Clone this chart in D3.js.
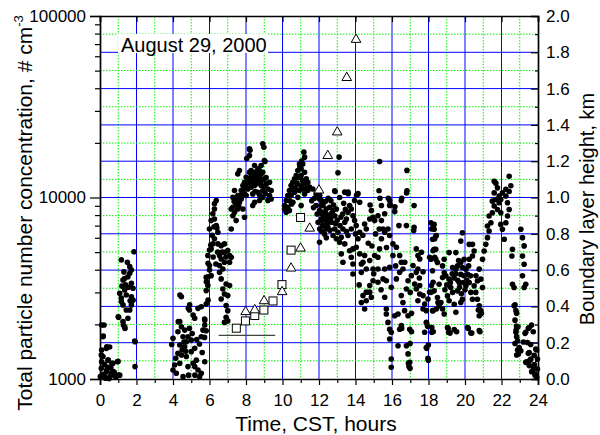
<!DOCTYPE html>
<html>
<head>
<meta charset="utf-8">
<script src="https://cdnjs.cloudflare.com/ajax/libs/d3/7.8.5/d3.min.js"></script>
<style>
body { margin: 0; background: #fff; }
svg { display: block; font-family: "Liberation Sans", Arial, sans-serif; }
</style>
</head>
<body>
<svg width="600" height="435"></svg>
<script>

// Particle concentration, [hour CST, # cm-3]
var nightA = [[0.07,1355],[0.35,1475],[0.53,1500],[0.16,1330],[0.44,1270],[0.71,1220],[0.07,1145],[0.35,1095],[0.62,1075],[0.89,1030],[1.08,1050],[0.26,1030],[0.99,1250],[0.16,1710],[0.22,1985],[0.09,1985],[0.18,1725],[0.37,1505],[0.09,1445],[0.45,1270],[0.64,1220],[0.09,1245],[0.37,1120],[0.73,1100],[0.55,1030],[0.82,1040],[1.0,1050],[0.02,1030],[0.95,1245],[0.3,1010],[0.5,1005],[0.15,1060],[0.6,1150],[0.25,1200],[0.42,1160],[0.78,1090]];

var nightB = [[1.92,1605],[1.92,1170],[1.28,1985],[1.37,1900],[1.0,2200],[1.17,4530],[1.5,4400],[1.86,5020],[1.26,3510],[1.53,3660],[1.72,3980],[1.63,3820],[1.35,3090],[1.08,2965],[1.17,2790],[1.44,2900],[1.72,2840],[1.81,2720],[1.26,2560],[1.63,2400],[1.53,2160],[1.35,1940],[1.26,2070],[1.02,2190],[1.9,1620],[1.72,3370],[1.81,3160],[1.17,2670],[1.35,3580],[1.63,4160],[1.31,3890],[1.72,2560],[1.44,2400],[1.55,3200],[1.4,3300],[1.65,2700],[1.2,3250]];

var predawn = [[4.46,2840],[4.91,2560],[5.1,2250],[5.19,2160],[5.37,2450],[5.55,2500],[5.74,2110],[5.92,2720],[5.74,1985],[5.64,1860],[5.55,1710],[4.37,2070],[4.46,1940],[4.27,1820],[4.64,1860],[4.55,1710],[4.82,1710],[4.73,1605],[5.0,1640],[4.37,1540],[4.64,1505],[4.0,1675],[4.27,1385],[4.46,1355],[4.73,1330],[5.0,1415],[5.19,1475],[5.28,1270],[5.1,1220],[4.82,1170],[4.37,1220],[4.09,1195],[4.0,1120],[4.18,1075],[4.55,1030],[5.37,1120],[5.55,1075],[5.46,1030],[5.19,1170],[5.74,1245],[3.93,1550],[4.29,2070],[4.38,2900],[4.84,2450],[4.9,2400],[6.0,5130],[6.07,5470],[5.92,4340],[5.92,3660],[5.83,3435],[6.0,3980],[4.6,1600],[4.9,1900],[5.05,1780],[4.5,1450],[4.7,1420],[5.3,1650],[5.45,1560],[4.15,1300],[5.6,1400],[4.85,1050],[5.2,1050]];

var morning = [[5.73,2140],[5.82,2590],[5.82,3070],[5.91,3270],[6.09,3710],[6.0,4220],[5.82,3630],[5.91,4790],[6.09,5210],[6.18,5550],[6.46,5550],[6.64,5430],[6.82,5550],[6.55,4790],[6.82,4400],[6.27,5920],[6.0,6710],[6.09,7460],[6.27,7620],[6.37,7000],[6.18,8130],[6.46,6430],[6.27,9230],[6.37,9620],[6.27,8650],[6.55,4220],[6.73,4040],[6.55,3870],[6.64,3560],[6.91,3340],[7.1,3270],[6.73,3130],[6.82,2940],[7.0,2880],[6.64,2760],[6.91,2540],[7.0,2380],[6.91,2190],[7.0,2090],[6.82,2050],[5.82,1845],[5.73,1695],[7.1,4790],[7.19,4690],[7.1,4400],[6.64,4580],[6.82,4990],
  [7.19,8650],[7.28,7940],[7.37,8300],[7.46,7460],[7.55,8650],[7.64,9420],[7.55,10260],[7.74,10920],[7.83,11640],[7.92,12140],[7.92,10470],[7.74,9820],[8.01,12940],[8.1,12680],[8.19,13770],[8.28,14090],[8.47,13770],[8.56,13210],[8.65,12680],[8.74,12940],[8.83,13490],[8.92,13770],[8.65,14390],[9.01,12680],[9.11,11880],[8.83,11640],[8.47,11640],[8.28,11400],[8.1,11140],[8.37,10470],[8.65,10690],[8.92,10920],[9.2,11140],[9.29,10260],[9.38,9820],[9.2,9620],[8.92,10020],[8.74,9620],[8.47,9420],[8.37,9040],[8.19,18540],[8.19,17020],[8.92,19770],[8.98,18920],[9.01,16000],[7.64,14090],[7.55,13490],[7.37,10920],[7.28,10020],[7.46,9820],[7.28,8830],[7.92,7780],[7.19,6710],[8.01,10260],[7.83,8650],[8.37,12140],[8.56,12400],[8.74,14090],[8.47,15000],[8.28,12680],[8.83,15000],[9.29,12140],[9.38,10920],[8.22,18200],[8.04,16400],[9.04,15800],
  [8.3,13200],[8.4,12800],[8.55,11900],[8.6,13600],[8.7,12300],[8.8,12000],[8.9,12500],[9.0,11500],[9.1,12900],[8.15,12100],[8.0,11700],[7.9,11200],[7.7,10300],[7.6,9000],[7.45,9200],[7.35,9500],[8.5,10800],[8.75,10300],[9.05,10500],[6.9,4700],[7.0,5100],[6.7,5000],[6.45,5000],[6.35,4300],[6.2,4700],[6.15,6200],[6.4,6800],[6.25,6900]];

var midday = [[10.11,9040],[10.2,9620],[10.29,10260],[10.38,10920],[10.47,11640],[10.57,12140],[10.66,12680],[10.75,13210],[10.84,14090],[11.02,14390],[11.11,15310],[11.17,17780],[11.21,16680],[10.93,15310],[11.02,13210],[11.21,13770],[11.3,12680],[11.39,12140],[11.21,11880],[11.11,11140],[10.93,10920],[10.66,10690],[10.47,10260],[10.84,10020],[10.57,9420],[10.29,8830],[10.38,8470],[10.11,8650],[11.21,10470],[11.39,10920],[11.48,11400],[11.66,11140],[11.84,10470],[12.03,9820],[12.12,9040],[12.21,8300],[12.3,7940],[12.03,8470],[11.84,9040],[12.12,7620],[12.39,6710],[12.03,5660],[11.02,9040],[11.7,8800],[11.9,8100],[11.95,7300],[12.2,7000],[11.6,9600],[11.75,9900],
  [10.7,11300],[10.8,12000],[10.9,12900],[11.0,11600],[11.1,12400],[10.6,11000],[11.3,11200],[10.95,14800],[11.05,15900],[10.4,9600],[10.5,9200],[10.2,8300],
  [12.15,8100],[12.25,7600],[12.35,8200],[12.45,7700],[12.55,8000],[12.65,7700],[12.7,8200],[12.5,7300],[12.6,6600],[12.3,6300],[12.15,6500],[12.4,6000],[12.9,7200],[13.0,7500],[13.15,7000],[13.2,7800],[13.3,8100],[13.45,8600],[13.35,9300],[13.5,6500],[12.8,9100],[12.65,9600],[12.5,9900],[12.35,9500]];

var afternoon = [[13.1,16700],[13.04,13700],[12.86,10900],[13.13,10000],[13.41,10700],[13.59,10700],[14.14,10500],[14.23,9420],[13.95,9620],[15.32,15800],[15.29,10900],[15.42,9040],[15.87,9620],[15.87,9040],[16.51,9620],[16.82,14100],[16.82,10900],[17.21,9040],[16.15,8360],[16.38,7000],[16.79,7000],[17.21,6850],[17.19,6580],
  [12.04,10300],[12.13,9620],[12.22,9040],[12.4,8650],[12.58,8830],[12.77,8470],[12.95,8650],[12.86,7940],[12.31,7940],[12.13,7460],[12.4,7310],[12.68,7310],[12.49,6850],[12.22,7000],[12.04,6710],[12.86,6710],[13.04,6430],[12.77,6170],[12.95,5920],[13.13,5660],[13.22,6040],[13.31,6710],[13.41,7310],[13.5,7620],[13.59,8300],[13.77,8650],[13.86,7940],[13.68,9040],[13.95,7460],[14.04,7000],[13.77,6710],[13.59,6170],[13.41,5550],[13.22,4890],[13.31,4400],[13.68,5090],[13.77,4690],[13.86,5210],[14.04,5320],[14.14,5920],[14.23,6430],[14.5,7140],[14.59,6710],[14.78,7620],[14.87,8470],[14.96,7780],[15.05,7460],[15.23,7940],[15.42,7460],[15.6,8130],[15.51,6710],[15.42,5920],[15.32,5210],[15.23,4690],[15.05,4790],[14.96,4040],[14.78,4490],[14.5,4790],[14.41,4400],[14.32,4300],[14.23,4890],[13.86,4300],[13.86,3790],[14.32,3870],[14.59,4040],[15.23,4040],[15.6,4040],[15.87,4120],[16.05,4790],[16.24,5320],[16.05,5550],[15.87,6170],[15.78,6710],[15.6,6430],[16.42,4790],[16.51,4400],[16.6,4040],[16.42,3870],[16.24,3560],[15.96,3200],[15.69,3480],[15.51,3560],[15.23,3410],[14.96,3480],[14.78,3270],[14.59,3010],[14.41,2880],[14.32,2640],[14.5,2430],[14.78,3010],[14.87,2820],[14.59,2700],[15.6,2820],[15.69,2430],[15.69,2280],[15.78,2050],[15.87,1880],[15.96,1810],[16.15,2230],[16.33,2280],[16.51,1970],[16.42,1880],[16.33,1525],[15.87,1660],[15.96,1290],[15.96,1160],[16.88,1375],[16.97,1235],[16.93,1170],[16.79,1525],[16.97,1880],[16.88,2230],[16.69,2380],[16.6,2640],[16.51,2880],[16.79,3130],[16.88,3480],[17.06,3710],[17.24,3340],[17.33,3130],[17.52,3270],[17.52,2940],[17.7,2880],[17.42,2700],[17.7,2430],[17.88,2380],[17.79,2590],[17.97,2760],[18.06,3010],[18.16,3270],[18.25,3410],[17.88,2050],[17.79,1810],[17.88,1490],[17.97,1300],[17.33,3870],[17.15,4220],[17.42,4040],[17.52,4580],[17.33,5210],[17.42,4790],[17.61,4990],[18.06,4690],[18.25,5090],[18.34,4690],[18.16,6710],[18.25,7000],[18.43,6170],[18.34,5920],[18.43,2430],[18.25,2380],[18.52,2640],
  [12.88,10800],[13.6,10500],[14.06,10300],[14.8,9100],[15.34,9900],[15.8,9900],[15.9,9150],[16.16,8900],[16.53,9900],[16.8,10600],
  [16.53,1900],[16.99,1570],[17.07,1820],[16.9,1220],[16.99,1145],[17.9,2030],[17.95,1950],[18.26,1820],[17.99,1540],[17.9,1475],[17.99,1270],[17.07,2300],
  [14.4,6200],[14.7,5600],[15.1,6300],[15.3,6700],[14.9,5400],[14.0,6300],[15.7,5300],[15.0,3800],[16.2,4200],[16.7,4400],[17.5,3600],[17.7,3900],[17.0,3000],[15.4,3100],[14.2,3300]];

var evening = [[18.13,7260],[18.31,6680],[18.22,5890],[18.4,6140],[18.31,5190],[18.4,4570],[18.13,4570],[18.22,3950],[18.49,4380],[18.77,4200],[18.86,3850],[18.95,3700],[18.77,3620],[18.58,3330],[18.31,3060],[18.13,3000],[18.49,2810],[18.68,2640],[18.77,2430],[18.86,2280],[18.58,2530],[18.22,2380],[18.18,1920],[18.18,1810],[19.04,1920],[19.1,1810],[19.41,1870],[20.14,1920],[20.32,1790],[20.78,1850],[19.13,3550],[19.22,3190],[19.32,3000],[19.04,2870],[19.13,2700],[19.41,2580],[19.5,2330],[19.59,3060],[19.68,3400],[19.77,3770],[19.5,4030],[19.32,4110],[19.59,4200],[19.77,4380],[19.95,4570],[19.86,4110],[20.05,4030],[19.95,3700],[20.14,3770],[20.23,3400],[20.05,3260],[19.77,2640],[19.86,2750],[20.32,3000],[20.41,2750],[20.5,3260],[20.59,3000],[20.68,2750],[20.78,2530],[20.87,2380],[20.78,2230],[20.23,4570],[20.41,4760],[20.5,5070],[20.41,5520],[20.23,5520],[19.86,6400],[19.77,5750],[19.5,4970],[19.13,4970],[18.86,4570],[20.78,4030],[20.87,3550],[20.96,3190],[20.68,3470],[18.31,7110],[18.4,5190],[20.96,4570],[21.05,5070],
  [19.08,1900],[19.18,1790],[19.54,1820],[20.18,1900],[20.37,1790],[20.82,1820],[20.73,2400],[20.9,2300],
  [19.2,3400],[19.4,3600],[19.6,3500],[19.7,3200],[19.9,3400],[20.0,3100],[20.1,3500],[19.8,2950],[19.5,3800],[19.3,3800],[20.3,3700],[20.6,3700],[19.0,3300],[18.9,3100],[20.2,4200],[19.65,4500]];

var spike = [[21.14,5520],[21.23,6010],[21.32,6530],[21.23,6970],[21.42,7260],[21.32,7910],[21.5,8240],[21.6,8970],[21.5,9550],[21.6,10600],[21.69,12000],[21.6,12300],[21.78,11300],[21.87,10200],[21.96,9750],[21.87,9350],[21.78,8590],[21.96,8240],[21.96,7110],[22.05,6680],[22.15,5890],[22.24,7260],[22.33,7910],[22.42,8590],[22.33,9350],[22.24,10200],[22.42,10800],[22.51,11600],[22.42,13100],[22.24,11100],[22.05,10600],[21.69,9750]];

var lateNight = [[23.06,6680],[23.15,6010],[23.24,5410],[23.15,4760],[23.24,4290],[23.15,3700],[23.33,3330],[23.24,3190],[22.6,3330],[22.69,3190],[22.57,4760],[22.6,5190],[22.69,2530],[22.79,2380],[22.82,1960],[22.79,1810],[22.88,1625],[22.97,1490],[22.93,1375],[23.06,1430],[23.33,1810],[23.52,1920],[23.42,1590],[23.52,1400],[23.61,1290],[23.79,1350],[23.88,1460],[23.97,1290],[23.52,1185],[23.7,1110],[23.85,1065],[23.97,1135],[23.33,1235],
  [22.74,2560],[22.83,2300],[22.74,2110],[22.8,1860],[22.83,1710],[22.74,1570],[22.88,1445],[22.83,1355],[22.9,1940],[23.29,1785],[23.47,1900],[23.65,1985],[23.74,1820],[23.47,1385],[23.38,1245],[23.74,1170],[23.65,1097],[23.84,1050],[23.93,1445],[23.93,1020],[23.56,1270],[23.2,1600],[23.6,1550],[23.8,1200]];

// Boundary layer height (km), two estimates
var sqHours = [7.47, 7.97, 8.48, 8.98, 9.48, 9.97, 10.47, 10.99];
var sqKm    = [0.28, 0.32, 0.35, 0.38, 0.43, 0.52, 0.71, 0.89];
var triHours = [7.98, 8.48, 8.99, 9.98, 10.47, 10.99, 11.49, 12.0, 12.48, 13.0, 13.52, 14.03];
var triKm    = [0.37, 0.38, 0.43, 0.48, 0.61, 0.72, 0.83, 1.04, 1.23, 1.36, 1.66, 1.87];
var lineHours = [6.5, 9.6];
var lineKm = 0.24;

// Tick labels
var hourLabels = [0, 2, 4, 6, 8, 10, 12, 14, 16, 18, 20, 22, 24];
var concLabels = [1000, 10000, 100000];

var svg = d3.select("svg"),
    margin = {top: 16, right: 62, bottom: 56, left: 100},
    width = +svg.attr("width") - margin.left - margin.right,
    height = +svg.attr("height") - margin.top - margin.bottom;

var g = svg.append("g")
    .attr("transform", "translate(" + margin.left + "," + margin.top + ")");

var x = d3.scaleLinear().domain([0, 24]).range([0, width]),
    y = d3.scaleLog().domain([1000, 100000]).range([height, 0]),
    y2 = d3.scaleLinear().domain([0, 2]).range([height, 0]);

var blue = "#0000ff", green = "#00f000";

// Grid: even hours / 0.2 km blue, the rest dotted green
var hourLines = d3.range(1, 24);
g.selectAll(".vgrid")
    .data(hourLines)
    .enter().append("line")
    .attr("class", "vgrid")
    .attr("x1", d => x(d)).attr("x2", d => x(d))
    .attr("y1", 0).attr("y2", height)
    .attr("stroke", d => d % 2 ? green : blue)
    .attr("stroke-width", 1)
    .attr("stroke-dasharray", d => d % 2 ? "1.5,1.5" : null);

var kmLines = d3.range(1, 20);
g.selectAll(".hgrid")
    .data(kmLines)
    .enter().append("line")
    .attr("class", "hgrid")
    .attr("x1", 0).attr("x2", width)
    .attr("y1", d => y2(d / 10)).attr("y2", d => y2(d / 10))
    .attr("stroke", d => d % 2 ? green : blue)
    .attr("stroke-width", 1)
    .attr("stroke-dasharray", d => d % 2 ? "1.5,1.5" : null);

// Date label on a white box
g.append("rect")
    .attr("x", 18).attr("y", 18)
    .attr("width", 150).attr("height", 19)
    .attr("fill", "#fff");
g.append("text")
    .attr("x", 21).attr("y", 35.5)
    .attr("font-size", 20)
    .text("August 29, 2000");

// Concentration dots
var allPoints = [].concat(nightA, nightB, predawn, morning, midday, afternoon, evening, spike, lateNight);
g.selectAll(".dot")
    .data(allPoints)
    .enter().append("circle")
    .attr("class", "dot")
    .attr("cx", d => x(d[0]))
    .attr("cy", d => y(d[1]))
    .attr("r", 2.8)
    .attr("fill", "#000");

// Reference line
g.append("line")
    .attr("x1", x(lineHours[0])).attr("x2", x(lineHours[1]))
    .attr("y1", y2(lineKm)).attr("y2", y2(lineKm))
    .attr("stroke", "#444").attr("stroke-width", 1.3);

// Boundary layer squares
g.selectAll(".sq")
    .data(d3.zip(sqHours, sqKm))
    .enter().append("rect")
    .attr("class", "sq")
    .attr("x", d => x(d[0]) - 4)
    .attr("y", d => y2(d[1]) - 4)
    .attr("width", 8).attr("height", 8)
    .attr("fill", "#fff").attr("stroke", "#000").attr("stroke-width", 1);

// Boundary layer triangles
var tri = d3.symbol().type(d3.symbolTriangle).size(40);
g.selectAll(".tri")
    .data(d3.zip(triHours, triKm))
    .enter().append("path")
    .attr("class", "tri")
    .attr("d", tri)
    .attr("transform", d => "translate(" + x(d[0]) + "," + y2(d[1]) + ")")
    .attr("fill", "#fff").attr("stroke", "#000").attr("stroke-width", 1);

// Axes
var logTicks = [];
[1000, 10000].forEach(function(dec) {
    for (var m = 1; m < 10; m++) logTicks.push(dec * m);
});
logTicks.push(100000);

var axL = g.append("g")
    .call(d3.axisLeft(y)
        .tickValues(logTicks)
        .tickSizeOuter(0)
        .tickSize(10)
        .tickPadding(4)
        .tickFormat(d => concLabels.indexOf(d) >= 0 ? d : ""));
axL.selectAll(".tick line").attr("x2", d => concLabels.indexOf(d) >= 0 ? -10 : -5);

var axB = g.append("g")
    .attr("transform", "translate(0," + height + ")")
    .call(d3.axisBottom(x)
        .tickValues(d3.range(0, 25))
        .tickSizeOuter(0)
        .tickSize(6)
        .tickPadding(9)
        .tickFormat(d => hourLabels.indexOf(d) >= 0 ? d : ""));
axB.selectAll(".tick line").attr("y2", d => d % 2 ? 4 : 6);

var axT = g.append("g")
    .call(d3.axisTop(x)
        .tickValues(hourLabels)
        .tickSizeOuter(0)
        .tickSize(-6)
        .tickFormat(""));

var axR = g.append("g")
    .attr("transform", "translate(" + width + ",0)")
    .call(d3.axisRight(y2)
        .tickValues(d3.range(0, 21).map(d => d / 10))
        .tickSizeOuter(0)
        .tickSize(-7)
        .tickPadding(8)
        .tickFormat(d => Math.round(d * 10) % 2 ? "" : d3.format(".1f")(d)));
axR.selectAll(".tick line").attr("x2", d => Math.round(d * 10) % 2 ? -3 : -7);

[axL, axB, axT, axR].forEach(function(a) {
    a.attr("font-family", null).attr("font-size", 17);
    a.select(".domain").attr("stroke-width", 1.7);
    a.selectAll(".tick line").attr("stroke-width", 1.2);
    a.selectAll(".tick text").attr("fill", "#000");
});

// Axis titles
svg.append("text")
    .attr("x", 316)
    .attr("y", 431)
    .attr("text-anchor", "middle")
    .attr("font-size", 21)
    .text("Time, CST, hours");

var tl = svg.append("text")
    .attr("transform", "translate(32,213) rotate(-90)")
    .attr("text-anchor", "middle")
    .attr("font-size", 21);
tl.append("tspan").text("Total particle number concentration, # cm");
tl.append("tspan").attr("dy", -9).attr("font-size", 13).text("-3");

svg.append("text")
    .attr("transform", "translate(594,209) rotate(-90)")
    .attr("text-anchor", "middle")
    .attr("font-size", 20)
    .text("Boundary layer height, km");

</script>
</body>
</html>
